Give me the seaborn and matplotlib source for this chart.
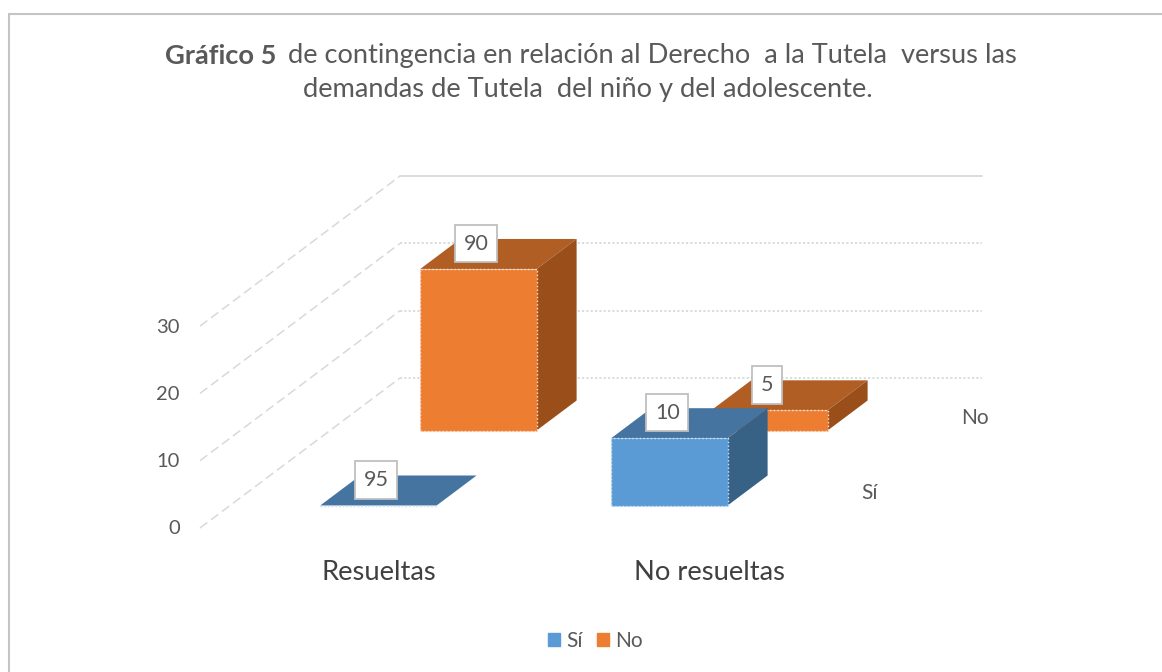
import numpy as np
import pandas as pd
import matplotlib
matplotlib.use("Agg")
import matplotlib.pyplot as plt
from matplotlib.patches import Patch, Polygon, Rectangle
import seaborn as sns

# values
categorias = ["Resueltas", "No resueltas"]
series = ["Sí", "No"]
alturas_si = [0, 10]
alturas_no = [24, 3]
etiquetas_si = ["95", "10"]
etiquetas_no = ["90", "5"]
ticks_y = [0, 10, 20, 30]

colores = {"Sí": "#5B9BD5", "No": "#ED7D31"}
colores_top = {"Sí": "#44749F", "No": "#B15E25"}
colores_side = {"Sí": "#376286", "No": "#9A4F1B"}
gris = "#595959"

W, H = 1162, 672
X0, Y0 = 200, 528        # front corner of the floor in pixels
CAT_PX, VAL_PX = 291, 6.73
DX = 200 / CAT_PX        # what one unit of depth shifts in x and y
DY = 150 / VAL_PX
ANCHO = 0.4
AJUSTE = 0.51            # bars sit a bit right of the middle of each category

sns.set_theme(style="white")
plt.rcParams["font.family"] = ["Lato", "DejaVu Sans"]

fig = plt.figure(figsize=(W / 100, H / 100), dpi=100)
ax = fig.add_axes([0, 0, 1, 1])


def px(x, y):
    return x / W, 1 - y / H


# chart border
fig.add_artist(Rectangle(px(9, 700), (1180 - 9) / W, (700 - 14) / H, transform=fig.transFigure,
                         fill=False, edgecolor="#c4c4c4", linewidth=1.5))

# walls
for v in ticks_y:
    ax.plot([0, DX], [v, v + DY], color="#d9d9d9", lw=1.1, ls=(0, (6, 3)), zorder=1)
    estilo = "-" if v == ticks_y[-1] else (0, (1.2, 1.2))
    ax.plot([DX, DX + 2], [v + DY, v + DY], color="#d9d9d9", lw=1.3, ls=estilo, zorder=1)
    ax.annotate(str(v), (-0.07, v), xytext=(0, -0.7), textcoords="offset points",
                ha="right", va="center", fontsize=14.5, color=gris)


def caja(serie, alturas, etiquetas, prof, z):
    # the bars, back row is called first so the front row covers it
    df = pd.DataFrame({"x": [AJUSTE + prof * DX, 1 + AJUSTE + prof * DX], "y": alturas})
    sns.barplot(data=df, x="x", y="y", native_scale=True, width=ANCHO, color=colores[serie],
                saturation=1, bottom=prof * DY, errorbar=None, ax=ax, zorder=z + 2,
                edgecolor="#f7e3d5" if serie == "No" else "#d5e5f3", linewidth=1, linestyle=":")
    fondo = 0.2 * DX
    alto = 0.2 * DY
    for i, h in enumerate(alturas):
        xl = i + AJUSTE + prof * DX - ANCHO / 2
        xr = xl + ANCHO
        yb = prof * DY
        yt = yb + h
        ax.add_patch(Polygon([(xl, yt), (xr, yt), (xr + fondo, yt + alto), (xl + fondo, yt + alto)],
                             facecolor=colores_top[serie], edgecolor="none", zorder=z + 1))
        ax.add_patch(Polygon([(xr, yb), (xr + fondo, yb + alto), (xr + fondo, yt + alto), (xr, yt)],
                             facecolor=colores_side[serie], edgecolor="none", zorder=z + 1))
        ax.annotate(etiquetas[i], (xl + ANCHO / 2 + fondo / 2, yt + alto / 2), xytext=(-16, 7.5),
                    textcoords="offset points", ha="center", va="center", fontsize=15.5, color=gris,
                    bbox=dict(boxstyle="square,pad=0.4", fc="white", ec="#bfbfbf", lw=1.3), zorder=20)


caja("No", alturas_no, etiquetas_no, 0.65, 4)
caja("Sí", alturas_si, etiquetas_si, 0.15, 8)

# depth axis labels
ax.annotate("Sí", (2 + 0.25 * DX, 0.25 * DY), xytext=(21, -1.5), textcoords="offset points",
            va="center", fontsize=15, color=gris)
ax.annotate("No", (2 + 0.75 * DX, 0.75 * DY), xytext=(21, -1.5), textcoords="offset points",
            va="center", fontsize=15, color=gris)

ax.set_xlim(-X0 / CAT_PX, (W - X0) / CAT_PX)
ax.set_ylim((Y0 - H) / VAL_PX, Y0 / VAL_PX)
ax.axis("off")

# titles and category names
fig.text(*px(165, 55.5), "Gráfico 5", fontsize=19.6, fontweight="bold", color=gris, va="center")
fig.text(*px(288, 55.5), "de contingencia en relación al Derecho  a la Tutela  versus las",
         fontsize=19.6, color=gris, va="center")
fig.text(*px(588, 90), "demandas de Tutela  del niño y del adolescente.", fontsize=19.6,
         color=gris, va="center", ha="center")
fig.text(*px(379, 572.5), categorias[0], fontsize=19.7, color="#404040", va="center", ha="center")
fig.text(*px(710, 572.5), categorias[1], fontsize=19.7, color="#404040", va="center", ha="center")

manijas = [Patch(color=colores[s], label=s) for s in series]
fig.legend(handles=manijas, loc="center", bbox_to_anchor=px(595.5, 641), ncol=2, frameon=False,
           fontsize=15, labelcolor=gris, handlelength=0.58, handleheight=0.62, handletextpad=0.3,
           columnspacing=0.7)

fig.savefig("out.png", dpi=100)
